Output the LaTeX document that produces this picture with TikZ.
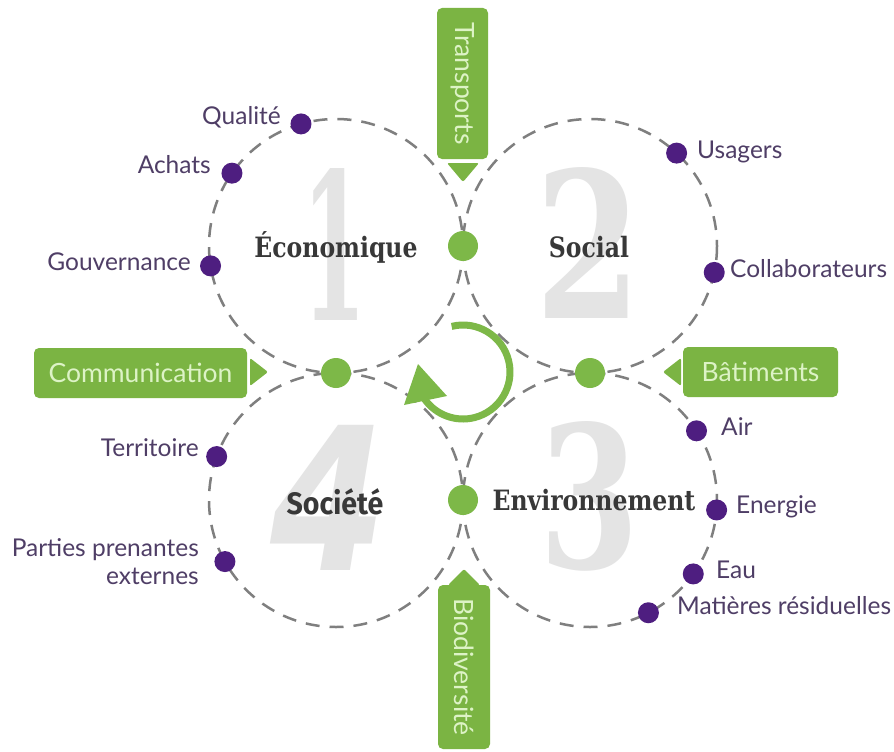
\documentclass[tikz,border=0pt]{standalone}
\usepackage{fontspec}
\usepackage{graphicx}
\setmainfont{Lato}
\newfontfamily\slabfont[FakeStretch=0.84]{DejaVu Serif}
\newfontfamily\socfont[FakeStretch=0.92]{Fira Sans}
\newfontfamily\numfont{DejaVu Serif}
\newfontfamily\numsans{DejaVu Sans}
\usetikzlibrary{calc}
\definecolor{boxgreen}{HTML}{7BB443}
\definecolor{boxtext}{HTML}{DDF3C6}
\definecolor{dotgreen}{HTML}{7DB848}
\definecolor{dotpurple}{HTML}{4E1E80}
\definecolor{labeltxt}{HTML}{4F3E66}
\definecolor{dashgray}{HTML}{7F7F7F}
\definecolor{numgray}{HTML}{E4E4E4}
\definecolor{centertxt}{HTML}{383838}
\begin{document}
\begin{tikzpicture}[x=1pt,y=-1pt,
  dashcirc/.style={draw=dashgray, line width=2.5pt, dash pattern=on 14pt off 10pt},
  pdot/.style={circle, fill=dotpurple, minimum size=21pt, inner sep=0pt},
  gdot/.style={circle, fill=dotgreen, minimum size=30pt, inner sep=0pt},
  lbl/.style={font=\fontsize{24.5}{29}\selectfont, text=labeltxt, inner sep=0pt, text height=0.72em, text depth=0pt},
  lblml/.style={font=\fontsize{24.5}{28}\selectfont, text=labeltxt, inner sep=0pt, align=right},
  gbox/.style={fill=boxgreen, rounded corners=5pt, inner sep=0pt, text=boxtext, font=\fontsize{26.5}{30}\selectfont},
  gtri/.style={fill=boxgreen, rounded corners=2pt},
  ctr/.style={text=centertxt, inner sep=0pt, font=\slabfont\bfseries\fontsize{28}{32}\selectfont},
  bignum/.style={text=numgray, inner sep=0pt}
]
\useasboundingbox (0,0) rectangle (894,752);
\fill[white] (0,0) rectangle (894,752);

% circle centres
\coordinate (c1) at (336,246);
\coordinate (c2) at (590,246);
\coordinate (c3) at (590,500);
\coordinate (c4) at (336,500);
\coordinate (cc) at (463,372);

% big numbers
\node[bignum] (n1) at (335,244) {\resizebox{64pt}{152pt}{\numfont\bfseries 1}};
\node[bignum] (n2) at (588.5,242.5) {\resizebox{106pt}{151pt}{\numfont\bfseries 2}};
\node[bignum] (n3) at (590,496.5) {\resizebox{100pt}{147pt}{\numfont\bfseries 3}};
\node[bignum] (n4) at (329,497.5) {\resizebox{116pt}{145pt}{\numsans\bfseries\itshape 4}};

% dashed circles
\draw[dashcirc] (c1) circle[radius=127];
\draw[dashcirc] (c2) circle[radius=127];
\draw[dashcirc] (c3) circle[radius=127];
\draw[dashcirc] (c4) circle[radius=127];

% central cycle arrow
\draw[dotgreen, line width=7pt] (cc) ++(-104:47) arc[start angle=-104, end angle=145, radius=47];
\fill[dotgreen] (418,364) -- (447,396) -- (404,405) -- cycle;

% green boxes
\node[gbox, rotate=-90, minimum width=151pt, minimum height=51pt] (transports) at (462.5,83.5) {Transports};
\fill[gtri] (447,163) -- (479,163) -- (463,182) -- cycle;
\node[gbox, rotate=-90, minimum width=164pt, minimum height=52pt] (biodiv) at (464,667) {Biodiversité};
\fill[gtri] (448,585) -- (480,585) -- (464,569) -- cycle;
\node[gbox, minimum width=213pt, minimum height=50pt] (comm) at (140.5,373) {Communication};
\fill[gtri] (250,358) -- (268,372) -- (250,386) -- cycle;
\node[gbox, minimum width=155pt, minimum height=50pt] (batim) at (760.5,372) {Bâtiments};
\fill[gtri] (681,358) -- (663,372) -- (681,386) -- cycle;

% green tangent dots
\node[gdot] (g12) at (463,246) {};
\node[gdot] (g14) at (336,373) {};
\node[gdot] (g23) at (590,373) {};
\node[gdot] (g34) at (463,500) {};

% purple dots
\node[pdot] (qualite) at ($(c1)+(254:127)$) {};
\node[pdot] (achats) at ($(c1)+(215:127)$) {};
\node[pdot] (gouv) at ($(c1)+(171:127)$) {};
\node[pdot] (usagers) at ($(c2)+(313:127)$) {};
\node[pdot] (collab) at ($(c2)+(12:127)$) {};
\node[pdot] (air) at ($(c3)+(327:127)$) {};
\node[pdot] (energie) at ($(c3)+(4.5:127)$) {};
\node[pdot] (eau) at ($(c3)+(35.6:127)$) {};
\node[pdot] (matieres) at ($(c3)+(62.6:127)$) {};
\node[pdot] (territ) at ($(c4)+(200:127)$) {};
\node[pdot] (parties) at ($(c4)+(151:127)$) {};

% labels
\node[lbl, anchor=east] (tqualite) at (281,121) {Qualité};
\node[lbl, anchor=east] (tachats) at (211,170) {Achats};
\node[lbl, anchor=east] (tgouv) at (191,267) {Gouvernance};
\node[lbl, anchor=west] (tusagers) at (697,155) {Usagers};
\node[lbl, anchor=west] (tcollab) at (730,274) {Collaborateurs};
\node[lbl, anchor=west] (tair) at (721,432) {Air};
\node[lbl, anchor=west] (tenergie) at (736,510) {Energie};
\node[lbl, anchor=west] (teau) at (716,575) {Eau};
\node[lbl, anchor=west] (tmatieres) at (677,611) {Matières résiduelles};
\node[lbl, anchor=east] (tterrit) at (199,453) {Territoire};
\node[lblml, anchor=east] (tparties) at (199,562) {Parties prenantes\\externes};

% centre labels
\node[ctr] (eco) at (336,247) {Économique};
\node[ctr] (soc) at (589,247) {Social};
\node[ctr] (env) at (594,500) {Environnement};
\node[text=centertxt, inner sep=0pt, font=\socfont\bfseries\fontsize{31}{34}\selectfont] (societe) at (335,502) {Société};
\end{tikzpicture}
\end{document}
